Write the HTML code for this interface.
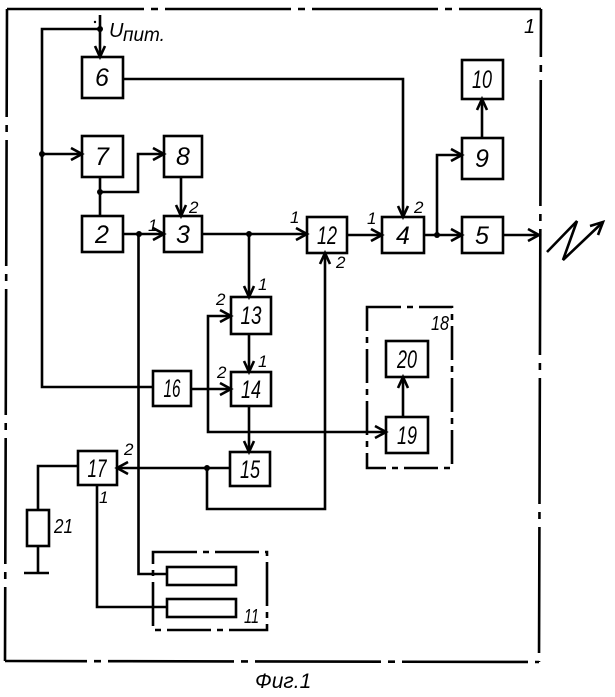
<!DOCTYPE html>
<html><head><meta charset="utf-8"><style>
html,body{margin:0;padding:0;background:#fff;}
svg{display:block;}
text{font-family:"Liberation Sans","DejaVu Sans",sans-serif;font-style:italic;fill:#000;}
.n{font-size:25px;text-anchor:middle;}
.s{font-size:17px;}
</style></head><body>
<svg width="615" height="697" viewBox="0 0 615 697" xmlns="http://www.w3.org/2000/svg">
<g fill="none" stroke="#000" stroke-width="2.6" stroke-linecap="butt">
<!-- outer frame dash-dot -->
<line x1="7" y1="9" x2="541" y2="9" stroke-dasharray="137 7 7 7 126 7 7 7 126 7 7 7 126 7 7 7"/>
<line x1="7" y1="9" x2="5" y2="661" stroke-dasharray="108 8 7 8 126 8 7 8 126 8 7 8 126 8 7 8 126 8 7 8 200"/>
<line x1="5" y1="661" x2="539" y2="662" stroke-dasharray="82 7 7 7 126 7 7 7 126 7 7 7 126 7 7 7 200"/>
<line x1="541" y1="9" x2="539" y2="662" stroke-dasharray="48 8 7 8 126 8 7 8 126 8 7 8 126 8 7 8 126 8 7 8 200"/>
<!-- dashed groups -->
<rect x="367" y="307" width="85" height="161" stroke-dasharray="34 6 6 6"/>
<rect x="153" y="552" width="114" height="78" stroke-dasharray="44 6 6 6"/>
</g>
<g fill="none" stroke="#000" stroke-width="2.6">
<!-- boxes -->
<rect x="82" y="57" width="41" height="41"/>
<rect x="82" y="136" width="41" height="41"/>
<rect x="164" y="136" width="38" height="41"/>
<rect x="82" y="216" width="41" height="36"/>
<rect x="164" y="216" width="38" height="36"/>
<rect x="307" y="217" width="40" height="36"/>
<rect x="382" y="217" width="42" height="36"/>
<rect x="462" y="217" width="41" height="36"/>
<rect x="462" y="138" width="41" height="41"/>
<rect x="462" y="60" width="41" height="39"/>
<rect x="231" y="297" width="40" height="37"/>
<rect x="231" y="372" width="40" height="34"/>
<rect x="153" y="371" width="38" height="35"/>
<rect x="230" y="452" width="40" height="34"/>
<rect x="78" y="451" width="39" height="34"/>
<rect x="386" y="341" width="42" height="36"/>
<rect x="386" y="417" width="42" height="36"/>
<rect x="27" y="510" width="22" height="36"/>
<rect x="167" y="567" width="69" height="18"/>
<rect x="167" y="599" width="69" height="18"/>
<!-- wires -->
<polyline points="100,15 100,57"/>
<polyline points="100,29 42,29 42,387 153,387"/>
<polyline points="42,154 82,154"/>
<polyline points="123,79 403,79 403,217"/>
<polyline points="100,177 100,216"/>
<polyline points="100,192 138,192 138,154 164,154"/>
<polyline points="181,177 181,216"/>
<polyline points="123,234 164,234"/>
<polyline points="138.5,234 138.5,574 167,574"/>
<polyline points="202,234 307,234"/>
<polyline points="249,234 249,297"/>
<polyline points="347,235 382,235"/>
<polyline points="424,235 462,235"/>
<polyline points="437,235 437,155 462,155"/>
<polyline points="482,138 482,99"/>
<polyline points="503,235 539,235"/>
<polyline points="249,334 249,372"/>
<polyline points="191,389 231,389"/>
<polyline points="231,316 208,316 208,432 386,432"/>
<polyline points="249,406 249,452"/>
<polyline points="230,468 117,468"/>
<polyline points="207,468 207,509 325,509 325,253"/>
<polyline points="78,466 38,466 38,510"/>
<polyline points="38,546 38,573"/>
<polyline points="24,573 49,573"/>
<polyline points="97,485 97,607 167,607"/>
<polyline points="403,417 403,377"/>
<polyline points="547,252 577,221 563,260 603,222"/>
<!-- arrowheads -->
<polyline points="95,46 100,57 105,46"/>
<polyline points="71,148 82,154 71,160"/>
<polyline points="398,206 403,217 408,206"/>
<polyline points="153,148 164,154 153,160"/>
<polyline points="176,205 181,216 186,205"/>
<polyline points="153,228 164,234 153,240"/>
<polyline points="296,228 307,234 296,240"/>
<polyline points="244,286 249,297 254,286"/>
<polyline points="371,229 382,235 371,241"/>
<polyline points="451,229 462,235 451,241"/>
<polyline points="451,149 462,155 451,161"/>
<polyline points="477,110 482,99 487,110"/>
<polyline points="528,229 539,235 528,241"/>
<polyline points="244,361 249,372 254,361"/>
<polyline points="220,383 231,389 220,395"/>
<polyline points="220,310 231,316 220,322"/>
<polyline points="375,426 386,432 375,438"/>
<polyline points="244,441 249,452 254,441"/>
<polyline points="128,462 117,468 128,474"/>
<polyline points="320,264 325,253 330,264"/>
<polyline points="398,388 403,377 408,388"/>
<polyline points="590,226 603,222 598,235"/>
</g>
<g fill="#000">
<circle cx="100" cy="29" r="3"/>
<circle cx="42" cy="154" r="3"/>
<circle cx="100" cy="192" r="3"/>
<circle cx="139" cy="234" r="3"/>
<circle cx="249" cy="234" r="3"/>
<circle cx="437" cy="235" r="3"/>
<circle cx="207" cy="468" r="3"/>
<circle cx="95" cy="22" r="1.2"/>
</g>
<!-- box numbers -->
<text class="n" x="102" y="86">6</text>
<text class="n" x="102" y="165">7</text>
<text class="n" x="183" y="165">8</text>
<text class="n" x="102" y="243">2</text>
<text class="n" x="183" y="243">3</text>
<text class="n" x="327" y="244" textLength="20" lengthAdjust="spacingAndGlyphs">12</text>
<text class="n" x="403" y="244">4</text>
<text class="n" x="482" y="244">5</text>
<text class="n" x="482" y="167">9</text>
<text class="n" x="482" y="88" textLength="20" lengthAdjust="spacingAndGlyphs">10</text>
<text class="n" x="251" y="324" textLength="21" lengthAdjust="spacingAndGlyphs">13</text>
<text class="n" x="251" y="398" textLength="20" lengthAdjust="spacingAndGlyphs">14</text>
<text class="n" x="172" y="397" textLength="17" lengthAdjust="spacingAndGlyphs">16</text>
<text class="n" x="250" y="478" textLength="20" lengthAdjust="spacingAndGlyphs">15</text>
<text class="n" x="97" y="477" textLength="19" lengthAdjust="spacingAndGlyphs">17</text>
<text class="n" x="407" y="368" textLength="20" lengthAdjust="spacingAndGlyphs">20</text>
<text class="n" x="407" y="444" textLength="20" lengthAdjust="spacingAndGlyphs">19</text>
<!-- small labels -->
<text class="s" x="148" y="231">1</text>
<text class="s" x="189" y="213">2</text>
<text class="s" x="290" y="223">1</text>
<text class="s" x="367" y="224">1</text>
<text class="s" x="414" y="213">2</text>
<text class="s" x="336" y="268">2</text>
<text class="s" x="258" y="290">1</text>
<text class="s" x="216" y="305">2</text>
<text class="s" x="258" y="367">1</text>
<text class="s" x="217" y="378">2</text>
<text class="s" x="124" y="455">2</text>
<text class="s" x="99" y="503">1</text>
<text style="font-size:20px" x="524" y="33">1</text>
<text style="font-size:20px" x="54" y="533" textLength="19" lengthAdjust="spacingAndGlyphs">21</text>
<text style="font-size:20px" x="244" y="623" textLength="15" lengthAdjust="spacingAndGlyphs">11</text>
<text style="font-size:20px" x="431" y="330" textLength="18" lengthAdjust="spacingAndGlyphs">18</text>
<text style="font-size:20px" x="109" y="37">U</text>
<text style="font-size:19px" x="123" y="41">пит.</text>
<text style="font-size:21px" x="255" y="688">Фиг.1</text>
</svg>
</body></html>
